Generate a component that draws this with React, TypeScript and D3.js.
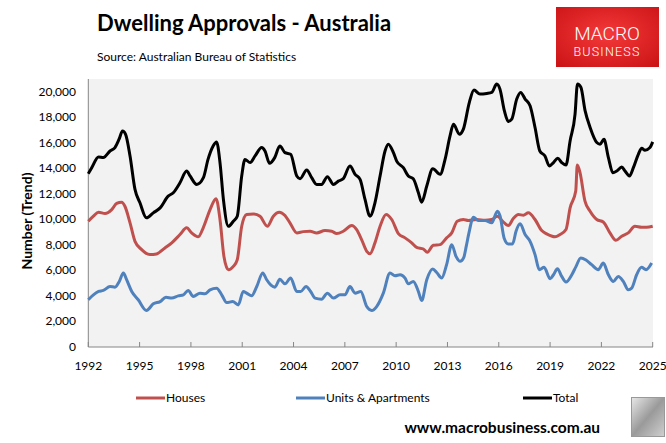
import React from 'react';
import * as d3 from 'd3';

// [decimal year, dwelling approvals]
const houses: [number, number][] = [
  [1992.0, 9850], [1992.3, 10250], [1992.6, 10560], [1992.98, 10460], [1993.37, 10770], [1993.66, 11250],
  [1993.95, 11350], [1994.14, 11030], [1994.44, 9730], [1994.73, 8280], [1995.12, 7630], [1995.6, 7240],
  [1995.99, 7290], [1996.48, 7760], [1996.88, 8160], [1997.36, 8810], [1997.75, 9340], [1998.04, 8940],
  [1998.43, 8630], [1998.72, 9340], [1999.12, 10770], [1999.47, 11620], [1999.7, 9990], [1999.93, 7100],
  [2000.19, 6060], [2000.48, 6320], [2000.71, 6840], [2000.97, 9460], [2001.26, 10380], [2001.65, 10430],
  [2002.04, 10250], [2002.47, 9460], [2002.82, 10250], [2003.17, 10560], [2003.5, 10300], [2003.79, 9730],
  [2004.19, 8940], [2004.57, 9040], [2004.97, 9070], [2005.35, 8940], [2005.84, 9120], [2006.23, 9070],
  [2006.52, 8890], [2006.91, 9070], [2007.4, 9520], [2007.69, 9200], [2007.98, 8420], [2008.28, 7500],
  [2008.47, 7310], [2008.76, 8160], [2009.06, 9460], [2009.41, 10380], [2009.74, 9990], [2010.13, 8890],
  [2010.52, 8550], [2010.91, 8160], [2011.2, 7810], [2011.59, 7680], [2011.82, 7420], [2012.17, 7970],
  [2012.56, 8020], [2012.95, 8550], [2013.25, 8940], [2013.57, 9850], [2013.93, 9990], [2014.22, 9910],
  [2014.71, 9990], [2015.2, 9930], [2015.59, 9990], [2015.92, 10250], [2016.23, 9850], [2016.56, 9520],
  [2016.85, 10070], [2017.15, 10380], [2017.44, 10330], [2017.73, 10510], [2018.12, 9990], [2018.51, 9120],
  [2018.8, 8860], [2019.29, 8630], [2019.58, 8810], [2019.93, 9200], [2020.17, 10900], [2020.5, 12220],
  [2020.59, 14260], [2020.75, 13660], [2021.04, 11430], [2021.34, 10640], [2021.73, 9990], [2022.11, 9800],
  [2022.5, 8940], [2022.85, 8360], [2023.19, 8680], [2023.57, 8940], [2023.96, 9460], [2024.35, 9380],
  [2024.64, 9380], [2025.0, 9460],
];

const units: [number, number][] = [
  [1992.0, 3700], [1992.3, 4090], [1992.6, 4350], [1992.88, 4430], [1993.27, 4740], [1993.56, 4690],
  [1993.81, 5140], [1994.05, 5800], [1994.24, 5270], [1994.54, 4350], [1994.92, 3700], [1995.4, 2860],
  [1995.8, 3380], [1996.2, 3560], [1996.54, 3900], [1996.88, 3830], [1997.26, 4010], [1997.56, 4090],
  [1997.84, 4430], [1998.14, 3960], [1998.53, 4220], [1998.82, 4170], [1999.12, 4480], [1999.5, 4610],
  [1999.8, 4090], [2000.09, 3480], [2000.44, 3560], [2000.77, 3300], [2001.06, 4350], [2001.26, 4220],
  [2001.55, 4010], [2001.85, 4740], [2002.2, 5800], [2002.43, 5270], [2002.68, 4850], [2002.91, 4690],
  [2003.2, 5300], [2003.5, 4950], [2003.83, 5400], [2004.19, 4350], [2004.42, 4350], [2004.73, 4740],
  [2005.0, 4350], [2005.26, 3830], [2005.64, 3750], [2005.98, 4220], [2006.33, 3830], [2006.72, 4090],
  [2007.01, 4090], [2007.3, 4740], [2007.6, 4220], [2007.93, 4350], [2008.28, 3170], [2008.57, 2860],
  [2008.86, 3170], [2009.25, 4220], [2009.64, 5800], [2009.93, 5580], [2010.23, 5660], [2010.52, 5400],
  [2010.71, 4950], [2011.0, 5140], [2011.3, 4350], [2011.49, 3640], [2011.79, 5270], [2012.14, 6110],
  [2012.37, 5840], [2012.66, 5400], [2012.95, 6450], [2013.25, 8020], [2013.5, 7100], [2013.74, 6710],
  [2013.95, 7000], [2014.1, 7900], [2014.25, 8900], [2014.52, 10170], [2014.8, 9910], [2015.2, 9910],
  [2015.59, 9730], [2015.92, 10640], [2016.08, 10250], [2016.31, 8550], [2016.56, 8080], [2016.81, 8080],
  [2017.01, 9070], [2017.25, 9650], [2017.54, 8810], [2017.83, 8280], [2018.12, 7240], [2018.37, 6060],
  [2018.65, 6240], [2019.0, 5350], [2019.2, 5660], [2019.43, 6130], [2019.68, 5530], [2019.93, 5090],
  [2020.27, 5660], [2020.52, 6320], [2020.79, 6980], [2021.1, 6820], [2021.43, 6450], [2021.82, 6060],
  [2022.11, 6580], [2022.41, 5660], [2022.7, 5140], [2022.99, 5530], [2023.28, 5140], [2023.57, 4480],
  [2023.77, 4610], [2024.06, 5660], [2024.35, 6240], [2024.61, 6060], [2024.94, 6580],
];

const total: [number, number][] = [
  [1992.0, 13580], [1992.2, 14050], [1992.6, 14890], [1992.88, 14840], [1993.27, 15360], [1993.56, 15630],
  [1993.8, 16280], [1994.0, 16930], [1994.18, 16670], [1994.44, 14970], [1994.73, 12350], [1995.02, 11300],
  [1995.4, 10120], [1995.8, 10510], [1996.2, 10900], [1996.67, 11820], [1996.97, 12090], [1997.36, 12870],
  [1997.75, 13790], [1997.95, 13400], [1998.34, 12740], [1998.73, 13270], [1999.0, 14700], [1999.3, 15750],
  [1999.5, 16070], [1999.7, 14450], [1999.9, 11560], [2000.19, 9460], [2000.48, 9850], [2000.71, 10250],
  [2000.97, 13400], [2001.16, 14700], [2001.46, 14450], [2001.75, 14970], [2002.14, 15630], [2002.33, 15360],
  [2002.6, 14390], [2002.9, 14840], [2003.2, 15750], [2003.5, 15230], [2003.83, 15100], [2004.19, 13400],
  [2004.38, 13190], [2004.77, 13870], [2005.06, 13270], [2005.35, 12740], [2005.64, 12740], [2005.98, 13350],
  [2006.33, 12740], [2006.62, 13000], [2006.91, 13190], [2007.3, 14180], [2007.6, 13530], [2007.89, 13130],
  [2008.18, 11560], [2008.47, 10250], [2008.76, 11300], [2009.06, 13400], [2009.35, 15360], [2009.54, 15890],
  [2009.84, 15230], [2010.03, 14570], [2010.42, 14050], [2010.71, 13400], [2011.0, 13190], [2011.3, 12090],
  [2011.49, 11350], [2011.79, 12610], [2012.14, 13970], [2012.57, 13530], [2012.86, 14700], [2013.15, 16540],
  [2013.35, 17460], [2013.7, 16670], [2013.93, 17070], [2014.28, 19170], [2014.55, 20130], [2014.9, 19820],
  [2015.3, 19870], [2015.59, 19950], [2015.88, 20600], [2016.07, 20200], [2016.33, 18500], [2016.56, 17670],
  [2016.76, 17850], [2017.05, 19430], [2017.28, 19950], [2017.54, 19430], [2017.83, 18900], [2018.12, 17200],
  [2018.4, 15360], [2018.7, 14970], [2018.96, 14180], [2019.2, 14450], [2019.45, 14790], [2019.68, 14450],
  [2019.93, 14260], [2020.17, 16150], [2020.46, 18250], [2020.6, 20600], [2020.8, 20350], [2021.05, 18500],
  [2021.34, 17200], [2021.73, 16020], [2021.92, 15890], [2022.15, 16280], [2022.41, 14840], [2022.67, 13660],
  [2022.9, 13790], [2023.19, 14100], [2023.38, 13790], [2023.64, 13400], [2023.87, 14050], [2024.16, 15100],
  [2024.36, 15570], [2024.55, 15420], [2024.84, 15630], [2025.0, 16070],
];

const yearTicks = [1992, 1995, 1998, 2001, 2004, 2007, 2010, 2013, 2016, 2019, 2022, 2025];
const valueTicks = [0, 2000, 4000, 6000, 8000, 10000, 12000, 14000, 16000, 18000, 20000];

const series = [
  { name: 'Houses', data: houses, color: '#C0504D', legendX: 136 },
  { name: 'Units & Apartments', data: units, color: '#4F81BD', legendX: 296 },
  { name: 'Total', data: total, color: '#000000', legendX: 523 },
];

const W = 666;
const H = 443;
const plot = { left: 88.3, right: 653, top: 79, bottom: 347 };
const FONT = 'Lato, "Open Sans", sans-serif';

export default function App() {
  const x = d3.scaleLinear().domain([1992, 2025]).range([plot.left, 652.7]);
  const y = d3.scaleLinear().domain([0, 21000]).range([plot.bottom, plot.top]);
  const line = d3.line<[number, number]>()
    .x(d => x(d[0]))
    .y(d => y(d[1]))
    .curve(d3.curveMonotoneX);
  const fmt = d3.format(',');

  return (
    <svg width={W} height={H} style={{ position: 'absolute', left: 0, top: 0, background: '#fff' }} fontFamily={FONT}>
      <defs>
        <radialGradient id="logoGrad" cx="50%" cy="45%" r="70%">
          <stop offset="0%" stopColor="#F5393A" />
          <stop offset="100%" stopColor="#CC1416" />
        </radialGradient>
        <linearGradient id="wolfGrad" x1="0" y1="0" x2="1" y2="1">
          <stop offset="0%" stopColor="#e8e8e8" />
          <stop offset="50%" stopColor="#9a9a9a" />
          <stop offset="100%" stopColor="#d0d0d0" />
        </linearGradient>
      </defs>

      {/* header */}
      <text x={97} y={31} fontSize={22} fontWeight="bold" fill="#000">Dwelling Approvals - Australia</text>
      <text x={97} y={61} fontSize={12} fill="#000">Source: Australian Bureau of Statistics</text>

      {/* logo */}
      <rect x={556} y={7} width={103} height={60} fill="url(#logoGrad)" />
      <text x={607} y={40} textAnchor="middle" fontFamily="Roboto, sans-serif" fontWeight={300} fontSize={19} fill="#fff">MACRO</text>
      <text x={607} y={56} textAnchor="middle" fontFamily="Roboto, sans-serif" fontWeight={300} fontSize={12.5} letterSpacing={1.2} fill="#fff">BUSINESS</text>

      {/* plot area */}
      <rect x={plot.left} y={plot.top} width={plot.right - plot.left} height={plot.bottom - plot.top} fill="#F2F2F2" />
      <line x1={plot.left} x2={plot.left} y1={plot.top} y2={plot.bottom} stroke="#868686" strokeWidth={1} />
      <line x1={plot.left} x2={plot.right} y1={plot.bottom} y2={plot.bottom} stroke="#868686" strokeWidth={1} />

      {yearTicks.map(t => (
        <g key={t}>
          <line x1={x(t)} x2={x(t)} y1={plot.bottom - 5} y2={plot.bottom} stroke="#868686" />
          <text x={x(t)} y={370} textAnchor="middle" fontSize={12} fill="#000">{t}</text>
        </g>
      ))}
      {valueTicks.map(t => (
        <text key={t} x={76} y={y(t) + 4} textAnchor="end" fontSize={12} fill="#000">{fmt(t)}</text>
      ))}
      <text transform={`translate(32,${(plot.top + plot.bottom) / 2 + 8}) rotate(-90)`} textAnchor="middle" fontSize={14} fontWeight="bold" fill="#000">Number (Trend)</text>

      {series.map(s => (
        <path key={s.name} d={line(s.data) ?? ''} fill="none" stroke={s.color} strokeWidth={3} strokeLinejoin="round" />
      ))}

      {/* legend */}
      {series.map(s => (
        <g key={s.name}>
          <line x1={s.legendX} x2={s.legendX + 29} y1={398} y2={398} stroke={s.color} strokeWidth={3} />
          <text x={s.legendX + 30} y={402} fontSize={12} fill="#000">{s.name}</text>
        </g>
      ))}

      <text x={600} y={433} textAnchor="end" fontSize={15.5} fontWeight="bold" fill="#000">www.macrobusiness.com.au</text>
      <rect x={631.5} y={397.5} width={33} height={39} fill="url(#wolfGrad)" stroke="#999" />
    </svg>
  );
}
